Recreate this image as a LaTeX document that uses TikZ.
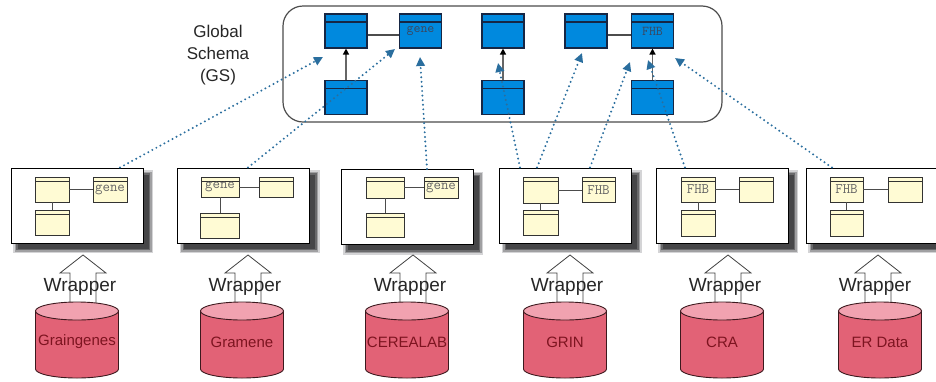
\documentclass[tikz,border=0pt]{standalone}
\usepackage{fontspec}
\setmainfont{Liberation Sans}
\usetikzlibrary{arrows.meta}
\definecolor{gsblue}{RGB}{0,137,222}
\definecolor{navy}{RGB}{22,38,68}
\definecolor{clsyel}{RGB}{255,251,212}
\definecolor{dotblue}{RGB}{42,110,158}
\definecolor{cylbody}{RGB}{226,98,118}
\definecolor{cyltop}{RGB}{241,162,176}
\definecolor{cyltext}{RGB}{125,20,32}
\definecolor{cylline}{RGB}{60,25,30}
\definecolor{shadowA}{RGB}{212,212,214}
\definecolor{shadowB}{RGB}{160,160,162}
\definecolor{shadowC}{RGB}{105,105,107}
\definecolor{shadowD}{RGB}{70,70,72}
\begin{document}
\begin{tikzpicture}[x=1pt,y=-1pt,
  gsbox/.style={draw=navy, line width=1.1pt, fill=gsblue, minimum width=42pt, minimum height=34pt, inner sep=0pt,
    text=navy!85, font=\ttfamily\fontsize{13.5}{13.5}\selectfont,
    path picture={\draw[navy,line width=1.4pt] ([yshift=-8pt]path picture bounding box.north west) -- ([yshift=-8pt]path picture bounding box.north east);}},
  clsbox/.style={draw=black!80, line width=0.8pt, fill=clsyel, minimum width=34pt, minimum height=25pt, inner sep=0pt,
    text=black!60, font=\ttfamily\fontsize{14.5}{14.5}\selectfont,
    path picture={\draw[black!80,line width=0.9pt] ([yshift=-4pt]path picture bounding box.north west) -- ([yshift=-4pt]path picture bounding box.north east);}},
  srcbox/.style={draw=black, line width=0.9pt, fill=white, minimum width=132pt, minimum height=75pt, inner sep=0pt},
  shadownode/.style={draw=none, inner sep=0pt, minimum width=132pt+#1, minimum height=75pt+#1},
  link/.style={draw=black!70, line width=1pt},
  inh/.style={draw=black!60, line width=1.3pt, -{Triangle[length=6pt,width=6pt,color=black]}},
  dotarrow/.style={dotblue, line width=2.2pt, dash pattern=on 0pt off 4.6pt, line cap=round,
    -{Triangle[length=9pt,width=8.5pt,line cap=butt]}},
  wrap/.style={draw=black!75, line width=0.8pt},
  wraptext/.style={font=\fontsize{19}{19}\selectfont, text=black!85, inner sep=0pt},
  cyllabel/.style={font=\fontsize{15}{15}\selectfont, text=cyltext, inner sep=0pt}
]
\useasboundingbox (0,0) rectangle (936,381);

% Global schema
\node[draw=black!70, line width=1.2pt, rounded corners=20pt, minimum width=439pt, minimum height=116pt, inner sep=0pt] (GS) at (502.5,64) {};
\node[align=center, font=\fontsize{17}{22}\selectfont, text=black!85] (gslabel) at (218,55) {Global\\Schema\\(GS)};

\node[gsbox] (g1) at (346,31) {};
\node[gsbox] (g2) at (420.5,31) {\raisebox{-4pt}{gene}};
\node[gsbox] (g3) at (503,31) {};
\node[gsbox] (g4) at (586,31) {};
\node[gsbox] (g5) at (652.5,31) {\raisebox{-4pt}{FHB}};
\node[gsbox] (g6) at (346,97.5) {};
\node[gsbox] (g7) at (503,97.5) {};
\node[gsbox] (g8) at (652.5,97.5) {};
\draw[link,line width=1.2pt] ([yshift=-4pt]g1.east) -- ([yshift=-4pt]g2.west);
\draw[link,line width=1.2pt] ([yshift=-4pt]g4.east) -- ([yshift=-4pt]g5.west);
\draw[inh] (g6) -- (g1);
\draw[inh] (g7) -- (g3);
\draw[inh] (g8) -- (g5);

% Soft drop shadows, as stacked nodes offset 6pt right and down
\foreach \nm/\px/\py in {A/77/205.5,B/243.5/205.5,C/407/207,D/565.5/205.5,E/722/205.5,F/872/205.5}{
  \node[shadownode=8pt, fill=shadowA] (\nm sa) at (\px+6,\py+6) {};
  \node[shadownode=5pt, fill=shadowB] (\nm sb) at (\px+6,\py+6) {};
  \node[shadownode=2pt, fill=shadowC] (\nm sc) at (\px+6,\py+6) {};
  \node[shadownode=-1pt, fill=shadowD] (\nm sd) at (\px+6,\py+6) {};
}

% Source boxes
\node[srcbox] (A) at (77,205.5) {};
\node[srcbox] (B) at (243.5,205.5) {};
\node[srcbox] (C) at (407,207) {};
\node[srcbox] (D) at (565.5,205.5) {};
\node[srcbox] (E) at (722,205.5) {};
\node[srcbox] (F) at (872,205.5) {};

\node[clsbox] (a1) at (52,189.5) {};
\node[clsbox] (a2) at (110,189.5) {\raisebox{-2pt}{gene}};
\node[clsbox] (a3) at (52,222.5) {};
\draw[link] (a1) -- (a2); \draw[link] (a1) -- (a3);

\node[clsbox, minimum width=38pt, minimum height=20pt] (b1) at (220,187) {\raisebox{-2pt}{gene}};
\node[clsbox, minimum height=20pt] (b2) at (276,187) {};
\node[clsbox, minimum width=39pt] (b3) at (220,225.5) {};
\draw[link] (b1) -- (b2); \draw[link] (b1) -- (b3);

\node[clsbox, minimum width=38pt, minimum height=21pt] (c1) at (385,187.5) {};
\node[clsbox, minimum height=21pt] (c2) at (441,187.5) {\raisebox{-2pt}{gene}};
\node[clsbox, minimum width=38pt, minimum height=24pt] (c3) at (385,225) {};
\draw[link] (c1) -- (c2); \draw[link] (c1) -- (c3);

\node[clsbox, minimum width=35pt, minimum height=26pt] (d1) at (540.5,190) {};
\node[clsbox, minimum width=33pt] (d2) at (598.5,190) {\raisebox{-2pt}{FHB}};
\node[clsbox, minimum width=35pt] (d3) at (540.5,222.5) {};
\draw[link] (d1) -- (d2); \draw[link] (d1) -- (d3);

\node[clsbox] (e1) at (698,189.5) {\raisebox{-2pt}{FHB}};
\node[clsbox] (e2) at (756,189.5) {};
\node[clsbox, minimum height=26pt] (e3) at (698,223) {};
\draw[link] (e1) -- (e2); \draw[link] (e1) -- (e3);

\node[clsbox, minimum width=33pt] (f1) at (846.5,189.5) {\raisebox{-2pt}{FHB}};
\node[clsbox] (f2) at (905,189.5) {};
\node[clsbox, minimum width=33pt, minimum height=26pt] (f3) at (846.5,223) {};
\draw[link] (f1) -- (f2); \draw[link] (f1) -- (f3);

% Dotted mapping arrows
\coordinate (t1) at (323,57);
\coordinate (t2) at (395,49);
\coordinate (t3) at (420,57);
\coordinate (t4) at (498,63);
\coordinate (t5) at (582,53);
\coordinate (t6) at (630,62);
\coordinate (t7) at (648,60);
\coordinate (t8) at (675,58);
\draw[dotarrow] ([xshift=43pt]A.north) -- (t1);
\draw[dotarrow] ([xshift=4.5pt]B.north) -- (t2);
\draw[dotarrow] ([xshift=20pt]C.north) -- (t3);
\draw[dotarrow] ([xshift=-45.5pt]D.north) -- (t4);
\draw[dotarrow] ([xshift=-28.5pt]D.north) -- (t5);
\draw[dotarrow] ([xshift=24.5pt]D.north) -- (t6);
\draw[dotarrow] ([xshift=-37pt]E.north) -- (t7);
\draw[dotarrow] ([xshift=-40pt]F.north) -- (t8);

% Wrapper arrows
\foreach \ax in {83,248,413,570,728,878}{
  \draw[wrap] (\ax-13,304) -- (\ax-13,273) -- (\ax-23,273) -- (\ax,255) -- (\ax+23,273) -- (\ax+13,273) -- (\ax+13,304);
  \node[wraptext] at (\ax-3,287) {Wrapper};
}

% Cylinders
\foreach \n/\cx/\lab in {1/77/Graingenes,2/242/Gramene,3/407/CEREALAB,4/565/GRIN,5/722/CRA,6/880/ER Data}{
  \filldraw[fill=cylbody, draw=cylline, line width=0.9pt] (\cx-41.5,311) -- (\cx-41.5,369) arc[start angle=180,end angle=360,x radius=41.5pt,y radius=9pt] -- (\cx+41.5,311) -- cycle;
  \filldraw[fill=cyltop, draw=cylline, line width=0.9pt] (\cx,311) ellipse[x radius=41.5pt, y radius=9pt];
  \node[cyllabel] (s\n) at (\cx,342) {\lab};
}
\end{tikzpicture}
\end{document}
